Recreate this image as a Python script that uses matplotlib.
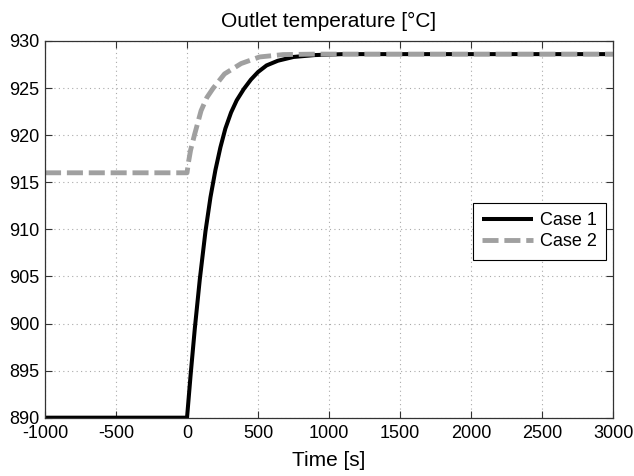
import matplotlib
matplotlib.use("Agg")
import matplotlib.pyplot as plt

plt.rcParams['font.family'] = ['Liberation Sans', 'DejaVu Sans']
plt.rcParams['axes.unicode_minus'] = False

# Case 1: outlet temperature
t_case1 = [-1000, 0, 25, 55, 90, 130, 165, 200, 235, 270, 310, 350, 400, 450, 500, 560, 640, 750, 900, 1100, 3000]
T_case1 = [890, 890, 894.5, 899.5, 904.7, 909.8, 913.4, 916.3, 918.7, 920.7, 922.4, 923.7, 924.9, 925.9, 926.7, 927.4, 927.9, 928.3, 928.5, 928.6, 928.6]

# Case 2
t_case2 = [-1000, 0, 10, 25, 52, 99, 140, 185, 264, 381, 511, 676, 900, 3000]
T_case2 = [916, 916, 917.1, 918.4, 920, 922.6, 924.0, 925, 926.5, 927.6, 928.3, 928.55, 928.6, 928.6]

xticks = [-1000, -500, 0, 500, 1000, 1500, 2000, 2500, 3000]
yticks = [890, 895, 900, 905, 910, 915, 920, 925, 930]

fig = plt.figure(figsize=(6.34, 4.76), dpi=100)
ax = fig.add_axes([0.071, 0.1225, 0.896, 0.7915])

ax.plot(t_case1, T_case1, color='black', lw=2.9, label='Case 1', solid_capstyle='butt')
ax.plot(t_case2, T_case2, color='#a0a0a0', lw=3.5, ls=(0, (3.3, 1.2)), label='Case 2')

ax.set_xlim(-1000, 3000)
ax.set_ylim(890, 930)
ax.set_xticks(xticks)
ax.set_yticks(yticks)
ax.tick_params(direction='in', top=True, right=True, labelsize=13, length=5, width=0.8, colors='#333333')
ax.tick_params(labelcolor='black')
ax.tick_params(axis='x', pad=5)
ax.tick_params(axis='y', pad=4)
for s in ax.spines.values():
    s.set_color('#333333')
    s.set_linewidth(0.9)

ax.grid(True, ls=(0, (1, 3)), color='#aaaaaa', lw=0.8)

ax.set_title('Outlet temperature [°C]', fontsize=15, pad=10)
ax.set_xlabel('Time [s]', fontsize=15, labelpad=7)

leg = ax.legend(loc='upper right', bbox_to_anchor=(0.987, 0.570), fontsize=13,
                fancybox=False, framealpha=1, edgecolor='black', handlelength=2.8,
                borderpad=0.5, labelspacing=0.25, handletextpad=0.4, borderaxespad=0)
leg.get_frame().set_linewidth(0.8)

fig.savefig('out.png', dpi=100)
